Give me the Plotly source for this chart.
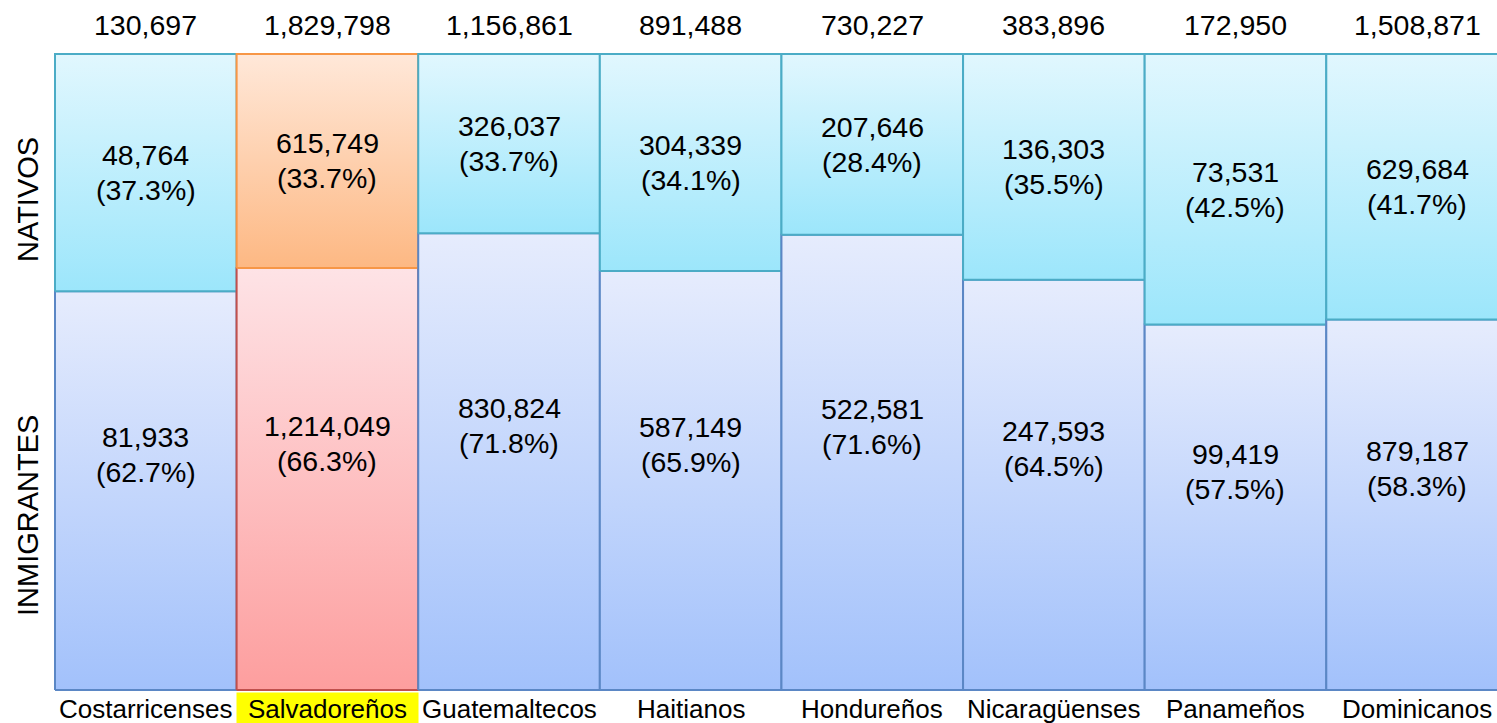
import plotly.graph_objects as go

# ── Data ───────────────────────────────────────────────────────────────────────
grupos = ["Costarricenses", "Salvadoreños", "Guatemaltecos", "Haitianos",
          "Hondureños", "Nicaragüenses", "Panameños", "Dominicanos"]
totales = [130697, 1829798, 1156861, 891488, 730227, 383896, 172950, 1508871]
nativos = [48764, 615749, 326037, 304339, 207646, 136303, 73531, 629684]
inmigrantes = [81933, 1214049, 830824, 587149, 522581, 247593, 99419, 879187]
# percentages as printed on the chart
nativos_pct_txt = ["37.3%", "33.7%", "33.7%", "34.1%", "28.4%", "35.5%", "42.5%", "41.7%"]
inmigrantes_pct_txt = ["62.7%", "66.3%", "71.8%", "65.9%", "71.6%", "64.5%", "57.5%", "58.3%"]
destacado = "Salvadoreños"

# ── Theme ──────────────────────────────────────────────────────────────────────
FONT = "Liberation Sans, Arial, Helvetica, sans-serif"
NAT = dict(top="#e1f7fe", bottom="#9ce6fb", line="#4bacc6")
INM = dict(top="#e6ecfd", bottom="#a2c1fb", line="#5b87c5")
NAT_HI = dict(top="#ffe8d9", bottom="#fdb883", line="#f79646")
INM_HI = dict(top="#fee3e6", bottom="#fd9e9e", line="#c0504d")

W, H = 1497, 723
M = dict(l=53, r=0, t=52, b=31)


def block(x0, y0, y1, style):
    return go.Scatter(
        x=[x0, x0 + 1, x0 + 1, x0, x0], y=[y0, y0, y1, y1, y0],
        mode="lines", fill="toself",
        fillgradient=dict(type="vertical",
                          colorscale=[[0, style["bottom"]], [1, style["top"]]]),
        line=dict(color=style["line"], width=2),
        hoverinfo="skip", showlegend=False,
    )


def label(x, y, lines, shift=0, size=28.5):
    # one annotation per line so the line spacing matches the original
    out = []
    n = len(lines)
    for k, t in enumerate(lines):
        off = shift + (n - 1) * 17.5 - k * 35
        out.append(dict(x=x, y=y, yshift=off, text=t, font=dict(size=size)))
    return out


fig = go.Figure()
ann = []
for i, g in enumerate(grupos):
    hi = g == destacado
    total = nativos[i] + inmigrantes[i]
    split = 100 * inmigrantes[i] / total
    fig.add_trace(block(i, 0, split, INM_HI if hi else INM))
    fig.add_trace(block(i, split, 100, NAT_HI if hi else NAT))

    ann += label(i + 0.5, (split + 100) / 2,
                 [f"{nativos[i]:,}", f"({nativos_pct_txt[i]})"])
    ann += label(i + 0.5, split / 2,
                 [f"{inmigrantes[i]:,}", f"({inmigrantes_pct_txt[i]})"], shift=36)
    ann += label(i + 0.5, 100, [f"{totales[i]:,}"], shift=29)
    lab = dict(x=i + 0.5, y=0, yshift=-19, text=g, font=dict(size=26))
    if hi:
        lab.update(bgcolor="#ffff00", width=181, height=32, borderpad=0)
    ann.append(lab)

for a in ann:
    a["font"] = dict(family=FONT, color="#000000", **a["font"])
    a.update(showarrow=False, xref="x", yref="y", yanchor="middle")

for txt, py in [("NATIVOS", 200), ("INMIGRANTES", 516)]:
    ann.append(dict(
        text=txt, textangle=-90, showarrow=False,
        xref="paper", yref="paper", xanchor="center", yanchor="middle",
        x=(28 - M["l"]) / (W - M["l"] - M["r"]),
        y=(H - M["b"] - py) / (H - M["t"] - M["b"]),
        font=dict(family=FONT, size=29, color="#000000"),
    ))

fig.update_layout(
    width=W, height=H,
    margin=M,
    paper_bgcolor="white", plot_bgcolor="white",
    xaxis=dict(range=[-0.011, 7.94], visible=False, fixedrange=True),
    yaxis=dict(range=[-0.3, 100.3], visible=False, fixedrange=True),
    annotations=ann,
    showlegend=False,
)

fig.write_html("out.html", config=dict(displayModeBar=False),
               post_script="document.body.style.margin='0';document.body.style.overflow='hidden';")
